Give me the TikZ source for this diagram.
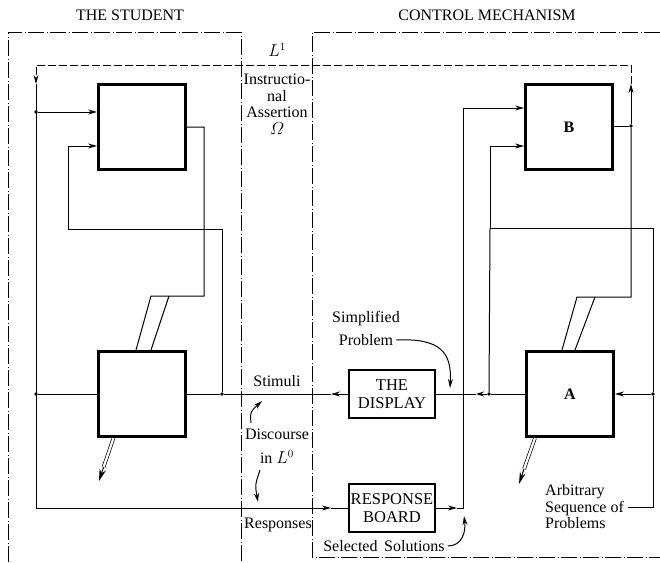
\documentclass[tikz,border=0pt]{standalone}
\usepackage{amsmath}
\usepackage{fontspec}
\setmainfont{Liberation Serif}
\usetikzlibrary{arrows.meta, positioning}
\tikzset{
    >={Stealth[length=9pt,width=5pt]}, % slim filled heads
    unit/.style={draw, line width=2.8pt, minimum width=87pt, minimum height=85pt, inner sep=0pt, font=\fontsize{16}{18}\selectfont\bfseries},
    panel/.style={draw, line width=2.2pt, minimum width=86pt, minimum height=48pt, inner sep=0pt, align=center, font=\fontsize{16.5}{18.5}\selectfont},
    frame/.style={line width=0.8pt, dash pattern=on 16pt off 2.5pt on 1pt off 2.5pt},
    lang/.style={line width=1pt, dash pattern=on 8pt off 3pt},
    wire/.style={line width=1pt},
    dbl/.style={line width=0.7pt, double, double distance=2.2pt},
    jdot/.style={circle, fill, inner sep=0pt, minimum size=3.8pt},
    note/.style={inner sep=0pt, font=\fontsize{16}{16.5}\selectfont},
}
\begin{document}
\begin{tikzpicture}[x=1pt, y=-1pt]
  \useasboundingbox (0,0) rectangle (660,562);

  % the two sides
  \draw[frame] (8,562) |- (241,32) -- (241,562);
  \draw[frame] (660,32) -| (312,557) -- (660,557);
  \node[note] (stu) at (130,15) {THE STUDENT};
  \node[note] (ctl) at (487,15) {CONTROL MECHANISM};

  \node[unit] (su) at (142,127) {};
  \node[unit] (sl) at (142,394) {};
  \node[unit] (b) at (569,127) {B};
  \node[unit] (a) at (570,394) {A};
  \node[panel] (disp) at (392,394) {THE\\DISPLAY};
  \node[panel] (resp) at (392,508) {RESPONSE\\BOARD};

  \node[jdot] (j1) at (36,112) {};
  \node[jdot] (j2) at (36,394) {};
  \node[jdot] (j3) at (222,394) {};
  \node[jdot] (j4) at (489,394) {};
  \node[jdot] (j5) at (653,394) {};
  \node[jdot] (bdot) at (631,126) {};
  \coordinate (lt) at (36,65);
  \coordinate (ld) at (36,84);
  \coordinate (lb) at (36,508);
  \coordinate (rin) at (331,508);
  \coordinate (sin) at (331,394);
  \coordinate (s1) at (68,229);
  \coordinate (s2) at (68,146);
  \coordinate (sk) at (204,296);
  \coordinate (c1) at (490,228);
  \coordinate (c2) at (490,146);
  \coordinate (c3) at (463,108);
  \coordinate (ak) at (631,297);
  \coordinate (bup) at (631,84);
  \coordinate (rout) at (457,508);
  \coordinate (aout) at (476,394);
  \coordinate (so1) at (113.5,438);
  \coordinate (so2) at (103.6,467);
  \coordinate (so3) at (99,481);
  \coordinate (ao1) at (535,438);
  \coordinate (ao2) at (524,469);
  \coordinate (ao3) at (519,484);

  % student side
  \draw[wire,->] (ld) -- (lb) -- (rin);
  \draw[wire] (rin) -- (resp.west);
  \draw[wire,->] (j1) -- (j1 -| su.west);
  \draw[wire] (j2) -- (sl.west);
  \draw[wire,->] (j3) |- (s1) -- (s2) -- (s2 -| su.west);
  \draw[wire] (su.east) -| (sk) -- (151,296) -- (136,350);
  \draw[wire] (169,296) -- (151,350);
  \draw[dbl] (so1) -- (so2);
  \draw[wire,-{Stealth[length=12pt,width=6.5pt]}] (so2) -- (so3);
  \draw[wire] (sl.east) -- (j3) -- (sin);
  \draw[wire,->] (disp.west) -- (sin);

  % control side
  \draw[wire,->] (resp.east) -- (rout);
  \draw[wire,->] (rout) -| (c3) -- (c3 -| b.west);
  \draw[wire,->] (j5) |- (c1) -- (c2) -- (c2 -| b.west);
  \draw[wire] (c1) -- (j4);
  \draw[wire] (a.west) -- (j4);
  \draw[wire,-{Stealth[open,length=8pt,width=5pt]}] (j4) -- (aout);
  \draw[wire] (aout) -- (disp.east);
  \draw[wire,->] (j5) -- (a.east);
  \draw[wire] (bdot -| b.east) -- (bdot);
  \draw[wire,->] (bdot) -- (bup);
  \draw[wire] (bdot) -- (ak) -- (577,297) -- (562,350);
  \draw[wire] (595,297) -- (575,350);
  \draw[dbl] (ao1) -- (ao2);
  \draw[wire,-{Stealth[length=12pt,width=6pt]}] (ao2) -- (ao3);

  % language L1
  \draw[lang,->] (bup) |- (lt) -- (ld);

  % labels
  \node[note] (l1) at (277,50) {$L^1$};
  \node[note, align=center] (ins) at (277,104) {Instructio-\\nal\\Assertion\\$\varOmega$};
  \node[note] (stim) at (277,381) {Stimuli};
  \node[note] (disc) at (277,434) {Discourse};
  \node[note] (inl) at (277,457) {in $L^0$};
  \node[note] (rsp) at (278,525) {Responses};
  \node[note] (simp) at (366,319) {Simplified};
  \node[note] (prob) at (366,340) {Problem};
  \node[note] (sel) at (384,546) {Selected\, Solutions};
  \node[note, align=left, anchor=west] (arb) at (545,507) {Arbitrary\\Sequence of\\Problems};

  \coordinate (d1) at (251,423);
  \coordinate (d2) at (262,401);
  \coordinate (d3) at (260,470);
  \coordinate (d4) at (258,502);
  \coordinate (sp) at (450,388);
  \coordinate (ss) at (464,516);
  \draw[wire,->] (d1) .. controls (250,412) .. (d2);
  \draw[wire,->] (d3) .. controls (255,485) .. (d4);
  \draw[wire,->] ([xshift=3pt]prob.east) .. controls (440,338) and (452,352) .. (sp);
  \draw[wire,->] ([xshift=3pt]sel.east) .. controls (462,546) and (466,532) .. (ss);
  \draw[wire, shorten <=4pt] (arb.east) -| (j5);
\end{tikzpicture}
\end{document}
